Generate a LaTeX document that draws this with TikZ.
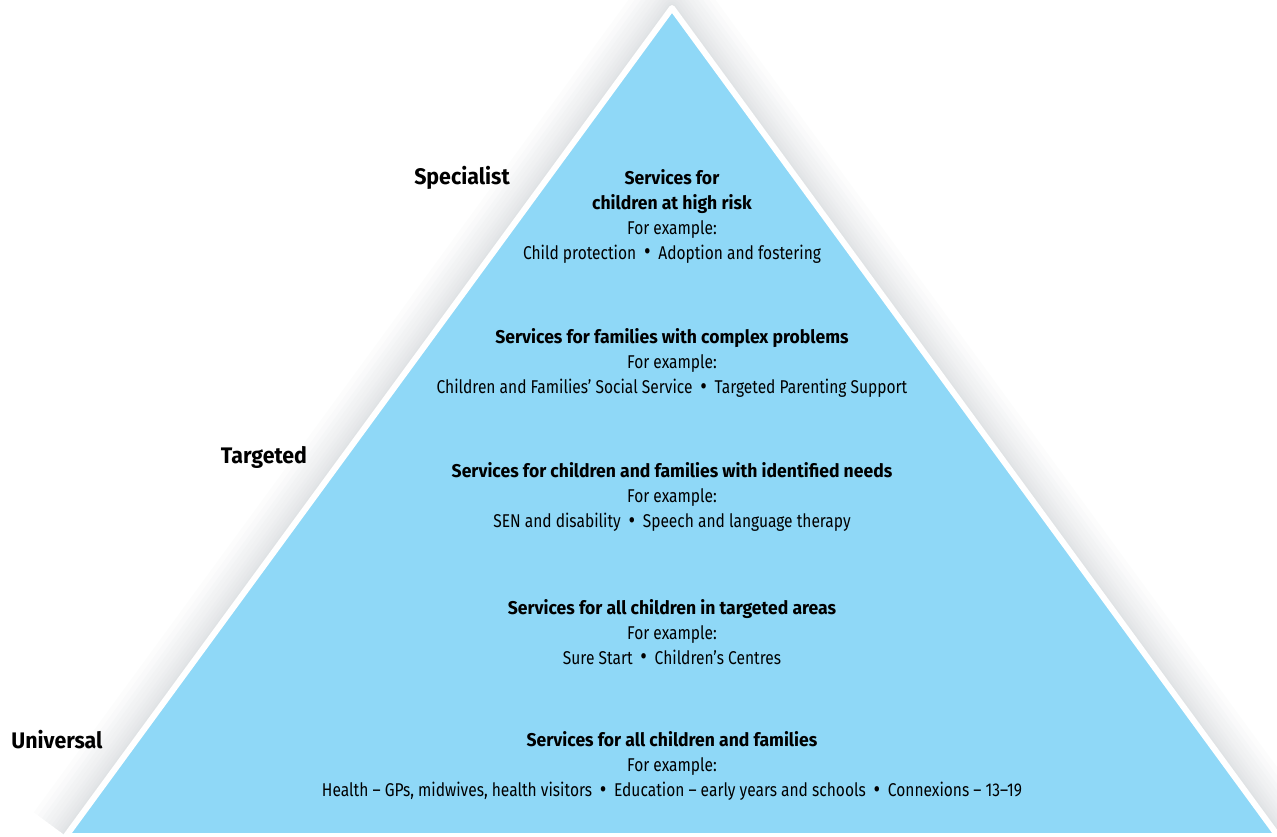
\documentclass[tikz,border=0pt]{standalone}
\usepackage{fontspec}
\setmainfont{Fira Sans}[FakeStretch=0.84,BoldFeatures={FakeStretch=0.95}]
\definecolor{pyr}{RGB}{143,216,247}
\definecolor{shad}{RGB}{120,130,140}
\begin{document}
\begin{tikzpicture}[x=1pt,y=-1pt,
  txt/.style={align=center,inner sep=0pt,font=\fontsize{18.5}{25}\selectfont},
  lab/.style={inner sep=0pt,font=\fontsize{22.5}{25}\selectfont\bfseries}]
\useasboundingbox (0,0) rectangle (1277,836);
\coordinate (apex) at (672,8);
\coordinate (bl) at (66,836);
\coordinate (br) at (1278,836);
% soft shadow
\foreach \w in {80,70,60,52,44,36,30,24,18,13,9,6}{
  \draw[shad,opacity=0.024,line width=\w pt,line join=round] (bl) -- (apex) -- (br);
}
\fill[white] (bl) -- (apex) -- (br) -- cycle;
\draw[white,line width=6pt,line join=round,fill=pyr] (bl) -- (apex) -- (br) -- cycle;
\newcommand{\bul}{\hspace{0.42em}\raisebox{-0.9pt}{\scalebox{1.3}{\textbullet}}\hspace{0.42em}}
\node[lab] (spec) at (462,178) {Specialist};
\node[lab] (targ) at (264,457) {Targeted};
\node[lab] (univ) at (57,740) {Universal};
\node[txt] (g1) at (672,216) {\textbf{Services for}\\\textbf{children at high risk}\\For example:\\Child protection\bul Adoption and fostering};
\node[txt] (g2) at (672,363) {\textbf{Services for families with complex problems}\\For example:\\Children and Families’ Social Service\bul Targeted Parenting Support};
\node[txt] (g3) at (672,497) {\textbf{Services for children and families with identified needs}\\For example:\\SEN and disability\bul Speech and language therapy};
\node[txt] (g4) at (672,632) {\textbf{Services for all children in targeted areas}\\For example:\\Sure Start\bul Children’s Centres};
\node[txt] (g5) at (672,766) {\textbf{Services for all children and families}\\For example:\\Health – GPs, midwives, health visitors\bul Education – early years and schools\bul Connexions – 13–19};
\end{tikzpicture}
\end{document}
